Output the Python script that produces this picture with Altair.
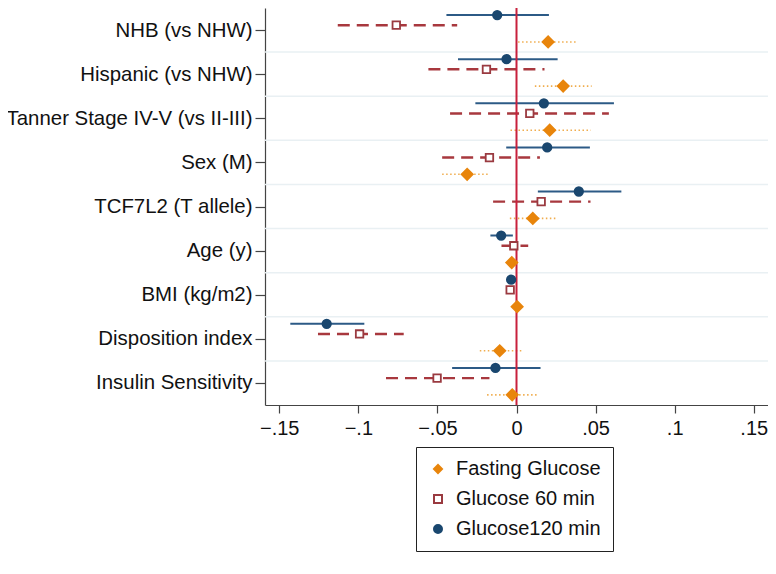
import json
import altair as alt
import pandas as pd

# ---------------- data ----------------
categories = [
    "NHB (vs NHW)",
    "Hispanic (vs NHW)",
    "Tanner Stage IV-V (vs II-III)",
    "Sex (M)",
    "TCF7L2 (T allele)",
    "Age (y)",
    "BMI (kg/m2)",
    "Disposition index",
    "Insulin Sensitivity",
]
series_names = ["Fasting Glucose", "Glucose 60 min", "Glucose120 min"]

fasting_est = [0.0200, 0.0295, 0.0210, -0.0312, 0.0103, -0.0030, 0.0004, -0.0106, -0.0027]
fasting_lo = [0.0010, 0.0116, -0.0038, -0.0470, -0.0042, -0.0055, -0.0010, -0.0232, -0.0186]
fasting_hi = [0.0386, 0.0475, 0.0470, -0.0173, 0.0253, -0.0005, 0.0018, 0.0042, 0.0131]

g60_est = [-0.0760, -0.0190, 0.0084, -0.0171, 0.0156, -0.0017, -0.0040, -0.0992, -0.0502]
g60_lo = [-0.1130, -0.0557, -0.0420, -0.0470, -0.0148, -0.0095, -0.0055, -0.1255, -0.0825]
g60_hi = [-0.0375, 0.0177, 0.0584, 0.0148, 0.0468, 0.0074, -0.0025, -0.0713, -0.0171]

g120_est = [-0.0122, -0.0063, 0.0173, 0.0194, 0.0394, -0.0097, -0.0034, -0.1200, -0.0133]
g120_lo = [-0.0443, -0.0370, -0.0260, -0.0065, 0.0135, -0.0165, -0.0050, -0.1430, -0.0407]
g120_hi = [0.0205, 0.0260, 0.0616, 0.0464, 0.0663, -0.0023, -0.0018, -0.0962, 0.0152]

x_ticks = [-0.15, -0.10, -0.05, 0.0, 0.05, 0.10, 0.15]

# ---------------- style ----------------
row_offset = {"Fasting Glucose": 0.27, "Glucose 60 min": -0.11, "Glucose120 min": -0.34}
point_colors = ["#e8850c", "#9a3a40", "#1a476f"]
point_fills = ["#e8850c", "#ffffff", "#1a476f"]
ci_colors = ["#f0ad4e", "#a8383e", "#2c5a86"]
ci_dashes = [[1.5, 2.5], [12, 7], [1, 0]]
ci_widths = [1.6, 2.4, 2.0]
point_shapes = ["diamond", "square", "circle"]
point_sizes = [125, 56, 72]
FONT = "Liberation Sans"

est_lists = [fasting_est, g60_est, g120_est]
lo_lists = [fasting_lo, g60_lo, g120_lo]
hi_lists = [fasting_hi, g60_hi, g120_hi]

rows = []
for s, est, lo, hi in zip(series_names, est_lists, lo_lists, hi_lists):
    for i, cat in enumerate(categories):
        rows.append({"series": s, "category": cat, "pos": i + 1 + row_offset[s],
                     "est": est[i], "lo": lo[i], "hi": hi[i]})
df = pd.DataFrame(rows)
grid_df = pd.DataFrame({"b": [i + 1.5 for i in range(len(categories) - 1)]})
zero_df = pd.DataFrame({"z": [0.0]})

label_expr = json.dumps(categories) + "[round(datum.value) - 1]"

xscale = alt.Scale(domain=[-0.159, 0.159], nice=False, zero=False)
yscale = alt.Scale(domain=[0.5, len(categories) + 0.5], reverse=True, nice=False, zero=False)

xaxis = alt.Axis(
    values=x_ticks,
    labelExpr="datum.value == 0 ? '0' : replace(format(datum.value, '.2~f'), '0.', '.')",
    grid=False, tickSize=8, labelPadding=5, labelFontSize=20, labelFont=FONT,
    labelColor="#111", domainColor="#444", tickColor="#444", domainWidth=1.2, tickWidth=1.2,
    title=None,
)
yaxis = alt.Axis(
    values=list(range(1, len(categories) + 1)),
    labelExpr=label_expr,
    grid=False, tickSize=10, labelPadding=3, labelFontSize=20.4, labelFont=FONT,
    labelColor="#111", domainColor="#444", tickColor="#444", domainWidth=1.2, tickWidth=1.2,
    labelLimit=400, title=None,
)

# legend-bearing scales use the series order; hidden-legend scales use the
# reversed order (a different domain) so they are not merged with the visible legend
sdom = series_names
rdom = series_names[::-1]

grid = alt.Chart(grid_df).mark_rule(color="#e9f0f3", strokeWidth=1.5).encode(
    y=alt.Y("b:Q", scale=yscale, axis=yaxis),
)

ci = alt.Chart(df).mark_rule().encode(
    x=alt.X("lo:Q", scale=xscale, axis=xaxis),
    x2="hi:Q",
    y=alt.Y("pos:Q", scale=yscale, axis=yaxis),
    color=alt.Color("series:N", scale=alt.Scale(domain=rdom, range=ci_colors[::-1]), legend=None),
    strokeDash=alt.StrokeDash("series:N", scale=alt.Scale(domain=rdom, range=ci_dashes[::-1]), legend=None),
    strokeWidth=alt.StrokeWidth("series:N", scale=alt.Scale(type="ordinal", domain=rdom, range=ci_widths[::-1]), legend=None),
)

zero = alt.Chart(zero_df).mark_rule(color="#c8203c", strokeWidth=2).encode(
    x=alt.X("z:Q", scale=xscale, axis=xaxis),
)

leg = alt.Legend(title=None, orient="none", legendX=151, legendY=439)

pts = alt.Chart(df).mark_point(opacity=1, strokeWidth=1.8).encode(
    x=alt.X("est:Q", scale=xscale, axis=xaxis),
    y=alt.Y("pos:Q", scale=yscale, axis=yaxis),
    shape=alt.Shape("series:N", scale=alt.Scale(domain=sdom, range=point_shapes), legend=leg),
    fill=alt.Fill("series:N", scale=alt.Scale(domain=sdom, range=point_fills), legend=leg),
    stroke=alt.Stroke("series:N", scale=alt.Scale(domain=sdom, range=point_colors), legend=leg),
    size=alt.Size("series:N", scale=alt.Scale(type="ordinal", domain=rdom, range=point_sizes[::-1]), legend=None),
)

chart = alt.layer(grid, ci, zero, pts).properties(
    width=503,
    height=397,
    autosize=alt.AutoSizeParams(type="none"),
    padding={"left": 257, "top": 0, "right": 0, "bottom": 161},
    background="#ffffff",
).configure_view(
    stroke=None
).configure_legend(
    strokeColor="#222", padding=12, labelFontSize=20, labelFont=FONT, labelColor="#111",
    symbolStrokeWidth=2, symbolSize=64, rowPadding=10, labelOffset=8,
)

chart.save("out.html", embed_options={"renderer": "svg", "actions": False})
